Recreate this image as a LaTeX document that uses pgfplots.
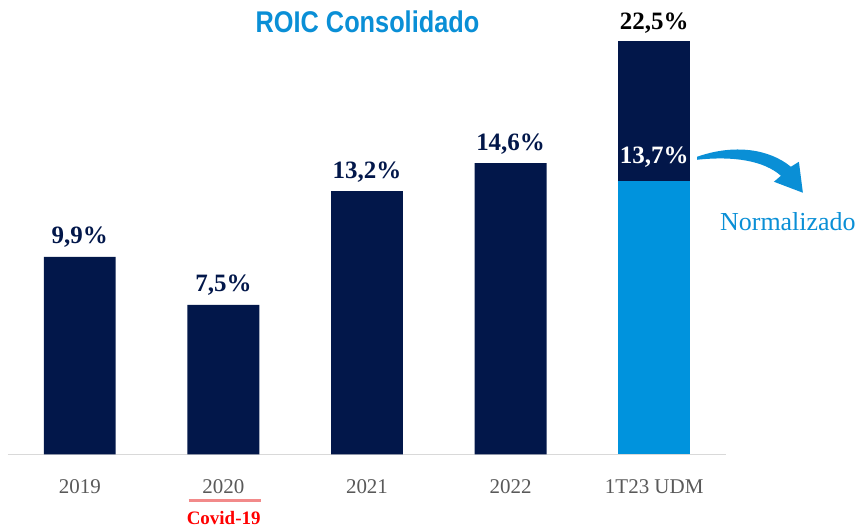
\documentclass[border=0pt]{standalone}
\usepackage{fontspec}
\setmainfont{Liberation Serif}
\newfontfamily\titlefont{Liberation Sans}
\usepackage{graphicx}
\usepackage{pgfplots}
\pgfplotsset{compat=1.18}

\definecolor{navy}{HTML}{02174A}
\definecolor{lblue}{HTML}{0093DD}
\definecolor{tblue}{HTML}{0A8FD6}
\definecolor{tickgray}{HTML}{595959}
\definecolor{covidline}{HTML}{F28A8A}

\begin{document}
\begin{tikzpicture}
\begin{axis}[
  at={(0,0)},anchor=south west,
  width=719pt,height=455pt,scale only axis,
  xmin=-0.5,xmax=4.5,ymin=0,ymax=22.78,
  ybar,bar width=72pt,clip=false,
  axis x line*=bottom,axis y line=none,
  x axis line style={-,draw=black!15,line width=1.5pt},
  xtick={0,1,2,3,4},
  xticklabels={2019,2020,2021,2022,1T23 UDM},
  xtick style={draw=none},
  xticklabel style={font=\fontsize{21}{24}\selectfont,text=tickgray,anchor=base,yshift=-35pt},
]
\addplot+[bar shift=0pt,fill=navy,draw=none,
  nodes near coords,point meta=explicit symbolic,
  every node near coord/.append style={anchor=base,yshift=13pt,text=navy,
    font=\fontsize{25}{29}\selectfont\bfseries}]
  coordinates {(0,9.9) [9,9\%] (1,7.5) [7,5\%] (2,13.2) [13,2\%] (3,14.6) [14,6\%]};
\addplot+[bar shift=0pt,fill=navy,draw=none] coordinates {(4,20.73)};
\addplot+[bar shift=0pt,fill=lblue,draw=none] coordinates {(4,13.7)};
\node[anchor=base,font=\fontsize{25}{29}\selectfont\bfseries,text=black]
  at (axis cs:4,21.3) {22,5\%};
\node[font=\fontsize{25}{29}\selectfont\bfseries,text=white]
  at (axis cs:4,14.9) {13,7\%};
\end{axis}
% title
\node[text=tblue,font=\fontsize{30}{34}\selectfont\titlefont\bfseries]
  at (360pt,433pt) {\scalebox{0.845}[1]{ROIC Consolidado}};
% arrow to the normalized label
\fill[tblue] (690pt,298pt) .. controls (727pt,311pt) and (762pt,306pt) .. (784pt,288pt)
  -- (792pt,293pt) -- (796pt,262pt) -- (767pt,273pt) -- (774pt,279pt)
  .. controls (757pt,294pt) and (727pt,299pt) .. (690pt,295pt) -- cycle;
\node[text=tblue,font=\fontsize{26}{30}\selectfont] at (781pt,233pt) {Normalizado};
% covid note
\draw[covidline,line width=3pt] (181pt,-46pt) -- (253pt,-46pt);
\node[text=red,font=\fontsize{19}{22}\selectfont\bfseries] at (216pt,-64pt) {Covid-19};
\useasboundingbox (-8pt,-74pt) rectangle (851pt,455pt);
\end{tikzpicture}
\end{document}
